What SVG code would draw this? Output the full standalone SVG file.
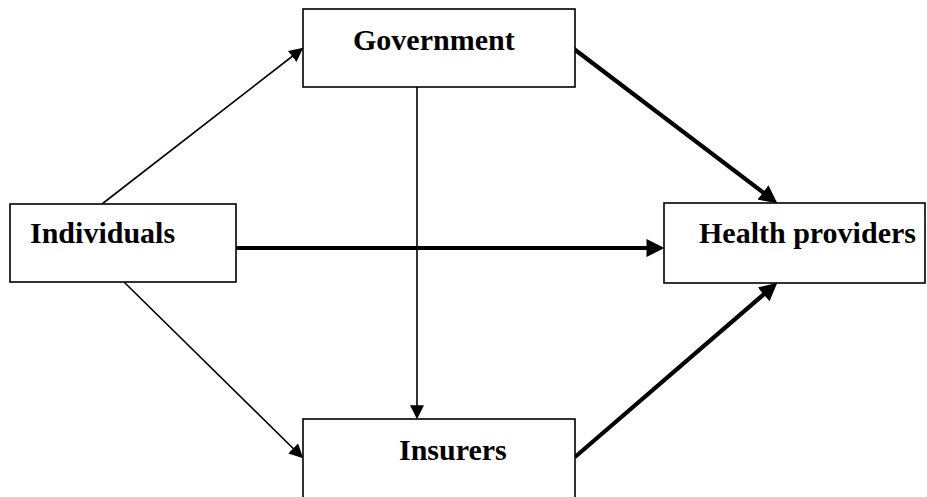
<svg xmlns="http://www.w3.org/2000/svg" width="927" height="497" viewBox="0 0 927 497">
<style>
.box{fill:#fff;stroke:#000;stroke-width:1.6}
.lbl{font-family:"Liberation Serif","Times New Roman",serif;font-weight:bold;font-size:30px;fill:#000}
.thin{stroke:#000;stroke-width:1.6;fill:none;marker-end:url(#ah)}
.thick{stroke:#000;stroke-width:4.2;fill:none;marker-end:url(#ahb)}
</style>
<defs>
<marker id="ah" markerUnits="userSpaceOnUse" markerWidth="14" markerHeight="14" refX="9" refY="6.5" orient="auto" viewBox="0 0 13 13">
<path d="M0,0 L13,6.5 L0,13 z" fill="#000"/>
</marker>
<marker id="ahb" markerUnits="userSpaceOnUse" markerWidth="18" markerHeight="18" refX="9" refY="8.5" orient="auto" viewBox="0 0 17 17">
<path d="M0,0 L17,8.5 L0,17 z" fill="#000"/>
</marker>
</defs>
<rect width="927" height="497" fill="#fff"/>
<g id="connectors">
<line class="thin" x1="102" y1="204" x2="299.8" y2="50.5"/>
<line class="thin" x1="124" y1="282" x2="300.1" y2="455.2"/>
<line class="thin" x1="417" y1="87" x2="417" y2="415"/>
<line class="thick" x1="236" y1="248" x2="656" y2="248"/>
<line class="thick" x1="574" y1="49" x2="770.6" y2="198.2"/>
<line class="thick" x1="575" y1="457" x2="770.9" y2="288.2"/>
</g>
<g id="individuals">
<rect class="box" x="10" y="204" width="226" height="78"/>
<text class="lbl" x="30" y="243">Individuals</text>
</g>
<g id="government">
<rect class="box" x="303" y="9" width="272" height="78"/>
<text class="lbl" x="353" y="50">Government</text>
</g>
<g id="health-providers">
<rect class="box" x="664" y="203" width="261" height="80"/>
<text class="lbl" x="699" y="243">Health providers</text>
</g>
<g id="insurers">
<rect class="box" x="303" y="419" width="272" height="90"/>
<text class="lbl" x="399" y="460">Insurers</text>
</g>
</svg>
